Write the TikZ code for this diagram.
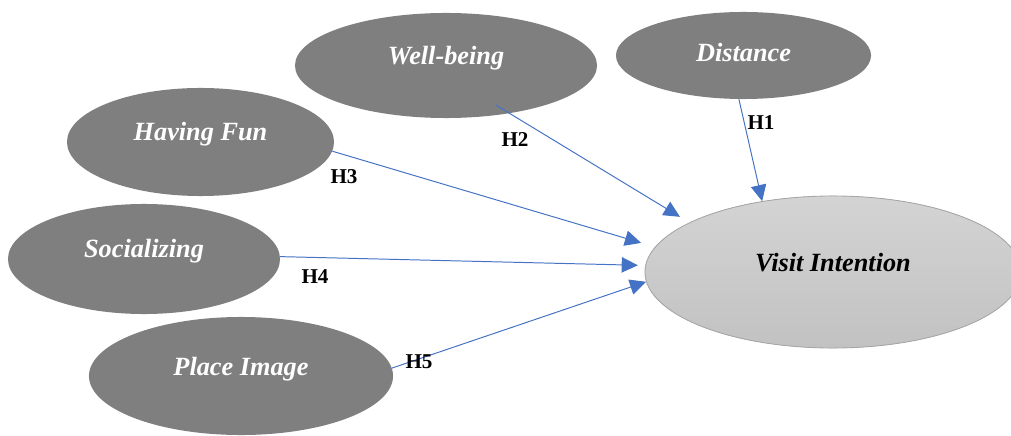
\documentclass[tikz,border=0pt]{standalone}
\usepackage{fontspec}
\setmainfont{Liberation Serif}
\definecolor{latentgray}{HTML}{7F7F7F}
\definecolor{linkblue}{HTML}{4472C4}
\usetikzlibrary{arrows.meta, shapes.geometric}

\begin{document}
\begin{tikzpicture}[x=0.025cm, y=0.025cm,
  latent/.style={ellipse, fill=latentgray, inner sep=0pt, text=white, font=\fontsize{18.7}{22}\selectfont\bfseries\itshape, text height=0.45cm, text depth=0.5cm},
  outcome/.style={latent, top color=black!17, bottom color=black!24, draw=black!35, line width=0.6pt, text=black},
  hyp/.style={font=\fontsize{15}{18}\selectfont\bfseries, inner sep=0pt},
  link/.style={-{Triangle[length=11.5pt, width=11pt]}, linkblue, line width=0.7pt}
]
\useasboundingbox (0,0) rectangle (1011,435);

\node[latent, minimum width=7.55cm, minimum height=2.625cm] (WB) at (446, 369.5) {Well-being};
\node[latent, minimum width=6.375cm, minimum height=2.175cm, text height=0.62cm, text depth=0.33cm] (DI) at (743.5, 379.5) {Distance};
\node[latent, minimum width=6.675cm, minimum height=2.7cm] (HF) at (200.5, 293) {Having Fun};
\node[latent, minimum width=6.8cm, minimum height=2.75cm] (SO) at (144, 176) {Socializing};
\node[latent, minimum width=7.6cm, minimum height=2.95cm] (PI) at (241, 59) {Place Image};
\node[outcome, minimum width=9.4cm, minimum height=3.8cm] (VI) at (833, 163) {Visit Intention};

\draw[link] (DI.-96) -- (VI.135);
\draw[link, shorten <=-0.4cm, shorten >=0.275cm] (WB.-37.3) -- (VI.161);
\draw[link, shorten >=0.36cm] (HF.-4.3) -- (VI.172.7);
\draw[link, shorten >=0.185cm] (SO.1) -- (VI.178.5);
\draw[link] (PI.3) -- (VI.183);

\node[hyp] (H1) at (761, 312) {H1};
\node[hyp] (H2) at (515, 295) {H2};
\node[hyp] (H3) at (344, 258) {H3};
\node[hyp] (H4) at (315, 158) {H4};
\node[hyp] (H5) at (419, 73) {H5};

\end{tikzpicture}
\end{document}
